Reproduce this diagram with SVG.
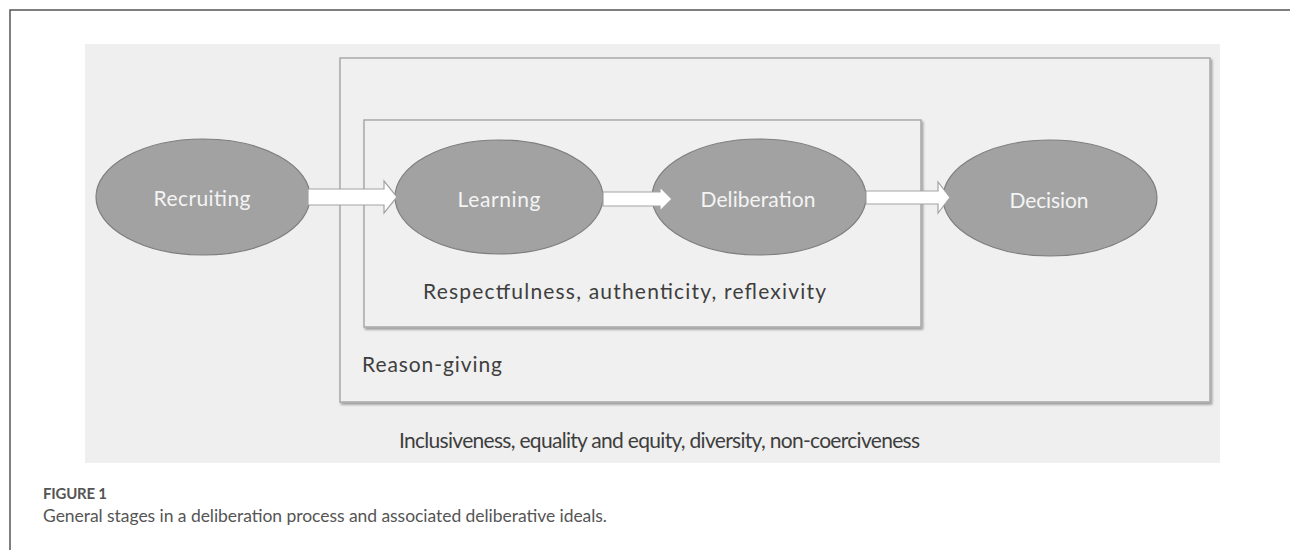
<svg xmlns="http://www.w3.org/2000/svg" width="1290" height="550" viewBox="0 0 1290 550">
<defs>
<filter id="sh" x="-5%" y="-5%" width="110%" height="115%">
<feDropShadow dx="1.5" dy="2" stdDeviation="1.2" flood-color="#000" flood-opacity="0.35"/>
</filter>
<style>
.box{fill:#f0f0f0;stroke:#a9a9a9;stroke-width:1.5;filter:url(#sh)}
.node{fill:#a2a2a2;stroke:#7e7e7e;stroke-width:1.2}
.nt{font-family:Lato,"Liberation Sans",sans-serif;font-size:21px;fill:#f4f4f4;text-anchor:middle;dominant-baseline:central}
.lbl{font-family:Lato,"Liberation Sans",sans-serif;font-size:21px;fill:#3e3e3e;dominant-baseline:central}
.arr{fill:#ffffff;stroke:#a3a3a3;stroke-width:1.2}
.cap{font-family:Lato,"Liberation Sans",sans-serif;fill:#555}
</style>
</defs>
<rect width="1290" height="550" fill="#ffffff"/>
<path d="M10,550 V10 H1290" fill="none" stroke="#555" stroke-width="1.5"/>
<rect id="panel" x="85" y="44" width="1135" height="419" fill="#efefef"/>
<g id="reason-box">
<rect class="box" x="340" y="58" width="870" height="344"/>
<text class="lbl" x="362" y="363" textLength="140">Reason-giving</text>
</g>
<g id="respect-box">
<rect class="box" x="364" y="120" width="557" height="207"/>
<text class="lbl" x="423" y="290" font-size="22" textLength="403">Respectfulness, authenticity, reflexivity</text>
</g>
<g id="recruiting">
<ellipse class="node" cx="203" cy="197" rx="107" ry="58"/>
<text class="nt" x="202" y="197" textLength="97">Recruiting</text>
</g>
<g id="learning">
<ellipse class="node" cx="499" cy="197" rx="104" ry="57"/>
<text class="nt" x="499" y="198" textLength="83">Learning</text>
</g>
<g id="deliberation">
<ellipse class="node" cx="759" cy="197" rx="107" ry="58"/>
<text class="nt" x="758" y="198" textLength="115">Deliberation</text>
</g>
<g id="decision">
<ellipse class="node" cx="1050" cy="198" rx="107" ry="58"/>
<text class="nt" x="1049" y="199" textLength="79">Decision</text>
</g>
<g id="connectors">
<path class="arr" d="M308,189 H384 V181 L397,197 L384,213 V205 H308 Z"/>
<path class="arr" d="M603,192 H660 V187 L672,199 L660,211 V206 H603 Z"/>
<path class="arr" d="M866,191 H938 V182 L950,197.5 L938,213 V204 H866 Z"/>
</g>
<text class="lbl" x="399" y="439" font-size="18.5" textLength="521">Inclusiveness, equality and equity, diversity, non-coerciveness</text>
<text class="cap" x="43" y="499" font-size="15" font-weight="700" textLength="64">FIGURE 1</text>
<text class="cap" x="43" y="522" font-size="17.5" textLength="564">General stages in a deliberation process and associated deliberative ideals.</text>
</svg>
